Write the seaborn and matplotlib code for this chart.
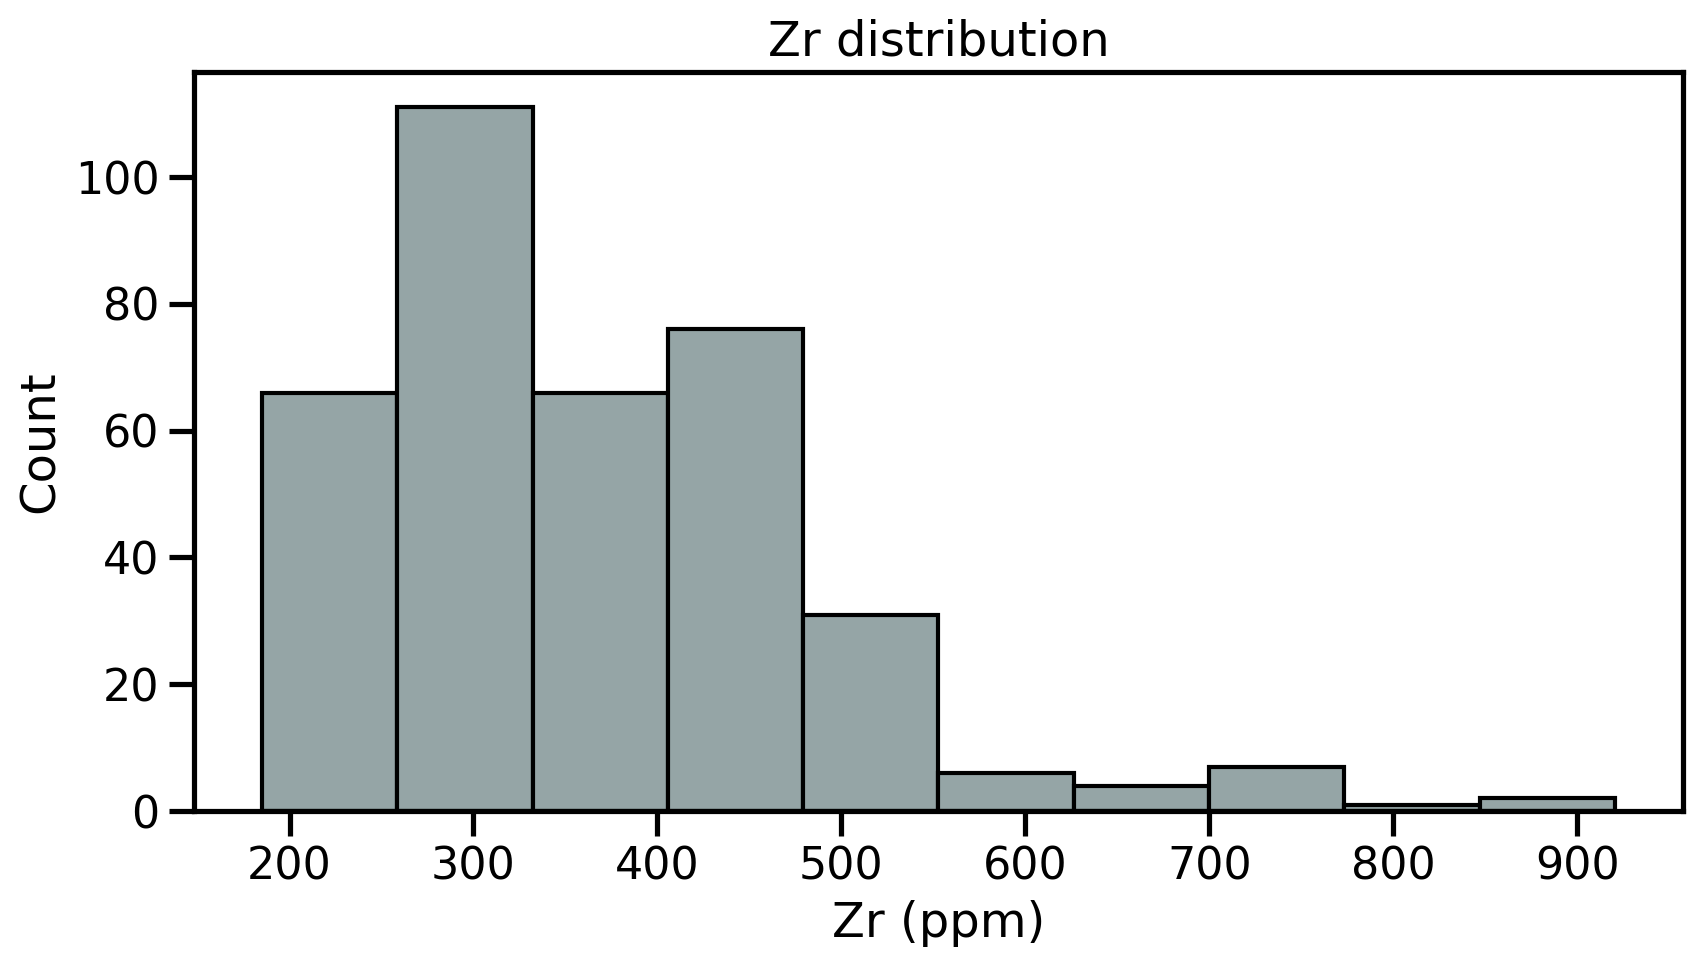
import numpy as np
import pandas as pd
import matplotlib
matplotlib.use("Agg")
import matplotlib.pyplot as plt
import seaborn as sns

# Histogram: bin edges (ppm) and counts per bin
bin_edges = [185.0, 258.55, 332.1, 405.65, 479.2, 552.75, 626.3, 699.85, 773.4, 846.95, 920.5]
counts = [66, 111, 66, 76, 31, 6, 4, 7, 1, 2]

bin_centers = [(a + b) / 2 for a, b in zip(bin_edges[:-1], bin_edges[1:])]
df = pd.DataFrame({"Zr": bin_centers, "n": counts})

sns.set_context("talk", rc={"xtick.labelsize": 16, "ytick.labelsize": 16,
                            "axes.labelsize": 17.3, "axes.titlesize": 17.3})
sns.set_style("ticks", {"axes.edgecolor": "black", "text.color": "black",
                        "axes.labelcolor": "black", "xtick.color": "black",
                        "ytick.color": "black"})

fig, ax = plt.subplots(figsize=(8.505, 4.82), dpi=200)
sns.histplot(data=df, x="Zr", weights="n", bins=bin_edges,
             color="#95a5a6", edgecolor="black", alpha=1, ax=ax)

ax.set_title("Zr distribution")
ax.set_xlabel("Zr (ppm)")
ax.set_ylabel("Count")

fig.subplots_adjust(left=0.1142, right=0.9892, top=0.925, bottom=0.1587)
fig.savefig("out.png", dpi=200)
